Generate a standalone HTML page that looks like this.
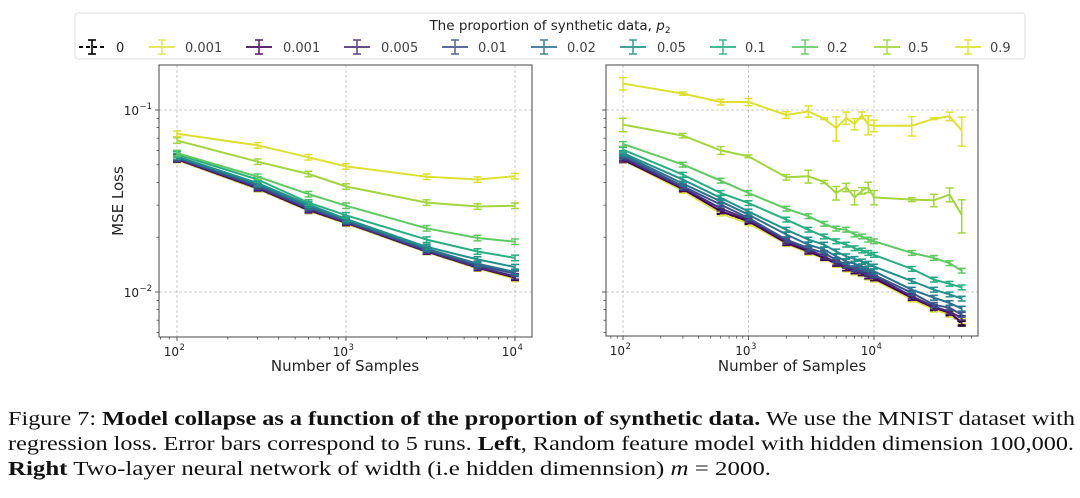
<!DOCTYPE html>
<html><head><meta charset="utf-8"><style>
html,body{margin:0;padding:0;background:#fff;}
svg{display:block;}
</style></head><body>
<svg id="fig" width="1080" height="498" viewBox="0 0 1080 498" xmlns="http://www.w3.org/2000/svg" font-family="'DejaVu Sans','Liberation Sans',sans-serif">
<g id="legend"></g>
<g id="left"></g>
<g id="right"></g>
<g id="caption" font-family="'Liberation Serif',serif" font-size="20" fill="#111">
<text x="8" y="425" textLength="1067" lengthAdjust="spacingAndGlyphs">Figure 7: <tspan font-weight="bold">Model collapse as a function of the proportion of synthetic data.</tspan> We use the MNIST dataset with</text>
<text x="8" y="450" textLength="1066" lengthAdjust="spacingAndGlyphs">regression loss. Error bars correspond to 5 runs. <tspan font-weight="bold">Left</tspan>, Random feature model with hidden dimension 100,000.</text>
<text x="8" y="475" textLength="763" lengthAdjust="spacingAndGlyphs"><tspan font-weight="bold">Right</tspan> Two-layer neural network of width (i.e hidden dimennsion) <tspan font-style="italic">m</tspan> = 2000.</text>
</g>
</svg>
<script>
const NS="http://www.w3.org/2000/svg";
const seriesLabels=["0","0.001","0.001","0.005","0.01","0.02","0.05","0.1","0.2","0.5","0.9"];
const seriesColors=["#000000","#dfe34a","#440154","#472d7b","#3b528b","#2c728e","#21918c","#28ae80","#5ec962","#a2d53f","#dde031"];
const leftX=[100,300,600,1000,3000,6000,10000];
const leftY0=[0.0532,0.0368,0.0280,0.0238,0.0166,0.0135,0.0119];
const leftY0001=[0.0532,0.0368,0.0280,0.0238,0.0166,0.0135,0.0118];
const leftYp001=[0.0536,0.0372,0.0282,0.0240,0.0167,0.0136,0.0120];
const leftY005=[0.0540,0.0376,0.0285,0.0242,0.0168,0.0137,0.0122];
const leftY01=[0.0546,0.0382,0.0290,0.0245,0.0171,0.0140,0.0126];
const leftY02=[0.0552,0.0390,0.0295,0.0248,0.0173,0.0143,0.0129];
const leftY05=[0.0556,0.0397,0.0302,0.0252,0.0177,0.0151,0.0137];
const leftY1=[0.0570,0.0415,0.0310,0.0264,0.0194,0.0167,0.0154];
const leftY2=[0.0580,0.0430,0.0345,0.0298,0.0224,0.0198,0.0189];
const leftY5=[0.0680,0.0520,0.0445,0.0380,0.0310,0.0295,0.0298];
const leftY9=[0.0740,0.0640,0.0550,0.0490,0.0430,0.0415,0.0433];
const rightX=[100,300,600,1000,2000,3000,4000,5000,6000,7000,8000,9000,10000,20000,30000,40000,50000];
const rightY0=[0.0530,0.0366,0.0276,0.0243,0.0185,0.0166,0.0153,0.0142,0.0134,0.0129,0.0126,0.0121,0.0118,0.0092,0.0081,0.0076,0.0067];
const rightY0001=[0.0532,0.0360,0.0270,0.0238,0.0184,0.0164,0.0153,0.0141,0.0133,0.0128,0.0125,0.0120,0.0117,0.0091,0.0080,0.0075,0.0069];
const rightYp001=[0.0534,0.0368,0.0278,0.0245,0.0186,0.0167,0.0154,0.0143,0.0135,0.0130,0.0127,0.0122,0.0119,0.0093,0.0082,0.0077,0.0068];
const rightY005=[0.0545,0.0373,0.0288,0.0250,0.0190,0.0171,0.0157,0.0145,0.0139,0.0133,0.0130,0.0125,0.0122,0.0095,0.0083,0.0078,0.0072];
const rightY01=[0.0556,0.0381,0.0302,0.0255,0.0194,0.0174,0.0164,0.0150,0.0141,0.0135,0.0133,0.0128,0.0124,0.0099,0.0085,0.0082,0.0075];
const rightY02=[0.0568,0.0394,0.0315,0.0266,0.0207,0.0182,0.0171,0.0157,0.0147,0.0143,0.0138,0.0134,0.0130,0.0103,0.0093,0.0087,0.0081];
const rightY05=[0.0580,0.0414,0.0329,0.0277,0.0220,0.0194,0.0182,0.0167,0.0157,0.0152,0.0147,0.0143,0.0138,0.0115,0.0103,0.0097,0.0092];
const rightY1=[0.0605,0.0441,0.0350,0.0308,0.0250,0.0220,0.0202,0.0190,0.0182,0.0174,0.0169,0.0164,0.0160,0.0134,0.0117,0.0111,0.0106];
const rightY2=[0.0650,0.0501,0.0409,0.0350,0.0287,0.0261,0.0237,0.0223,0.0220,0.0207,0.0202,0.0194,0.0190,0.0164,0.0154,0.0144,0.0131];
const rightY5=[0.0830,0.0723,0.0600,0.0556,0.0427,0.0432,0.0402,0.0350,0.0376,0.0331,0.0360,0.0376,0.0331,0.0322,0.0319,0.0343,0.0266];
const rightY9=[0.1396,0.1230,0.1106,0.1106,0.0939,0.0983,0.0896,0.0796,0.0904,0.0838,0.0935,0.0830,0.0820,0.0820,0.0896,0.0923,0.0773];
const rightErr5=[0.0070,0.0020,0.0030,0.0010,0.0015,0.0035,0.0008,0.0030,0.0020,0.0030,0.0015,0.0025,0.0030,0.0008,0.0025,0.0030,0.0055];
const rightErr9=[0.0110,0.0025,0.0040,0.0050,0.0040,0.0070,0.0010,0.0120,0.0070,0.0060,0.0040,0.0100,0.0060,0.0100,0.0010,0.0050,0.0140];
const leftSeries=[leftY0,leftY0001,leftYp001,leftY005,leftY01,leftY02,leftY05,leftY1,leftY2,leftY5,leftY9];
const rightSeries=[rightY0,rightY0001,rightYp001,rightY005,rightY01,rightY02,rightY05,rightY1,rightY2,rightY5,rightY9];

function el(tag,attrs,parent){const e=document.createElementNS(NS,tag);for(const k in attrs)e.setAttribute(k,attrs[k]);parent.appendChild(e);return e;}

function panel(g,box,xDec,xs,series,errFn,withYLabels){
  const [x0,x1,y0,y1]=box;
  const px=v=>xDec.at+ (Math.log10(v)-2)*xDec.per;
  const py=v=>110+(-1-Math.log10(v))*182;
  [100,1000,10000].forEach(v=>{const gl=el('line',{x1:px(v),x2:px(v),y1:y0,y2:y1,stroke:'#bbb','stroke-width':0.8,'stroke-dasharray':'3,2'},g);
    });
  [0.1,0.01].forEach(v=>{const gl=el('line',{x1:x0,x2:x1,y1:py(v),y2:py(v),stroke:'#bbb','stroke-width':0.8,'stroke-dasharray':'3,2'},g);
    });
  for(let d=1;d<=4;d++)for(let m=2;m<=9;m++){const v=m*Math.pow(10,d);const x=px(v);if(x>x0&&x<x1){el('line',{x1:x,x2:x,y1:y1,y2:y1+2.5,stroke:'#333','stroke-width':0.7},g);}}
  for(let d=-3;d<=-1;d++)for(let m=2;m<=9;m++){const v=m*Math.pow(10,d);const y=py(v);if(y>y0&&y<y1){el('line',{x1:x0,x2:x0-2.5,y1:y,y2:y,stroke:'#333','stroke-width':0.7},g);}}
  [[100,'2'],[1000,'3'],[10000,'4']].forEach(([v,e])=>{const x=px(v);el('line',{x1:x,x2:x,y1:y1,y2:y1+4,stroke:'#333','stroke-width':0.8},g);
    const t=el('text',{x:x+2,y:y1+19,'font-size':12,'text-anchor':'end',fill:'#222'},g);t.textContent='10';
    
    const s=el('text',{x:x+2.5,y:y1+13,'font-size':8.5,fill:'#222'},g);s.textContent=e;});
  [[0.1,'−1'],[0.01,'−2']].forEach(([v,e])=>{const y=py(v);el('line',{x1:x0,x2:x0-4,y1:y,y2:y,stroke:'#333','stroke-width':0.8},g);
    if(withYLabels){const t=el('text',{x:x0-20,y:y+5,'font-size':12,'text-anchor':'end',fill:'#222'},g);t.textContent='10';
    
    const s=el('text',{x:x0-19.5,y:y-1,'font-size':8.5,fill:'#222'},g);s.textContent=e;}});
  series.forEach((ys,i)=>{
    const sg=el('g',{},g);
    
    
    const pts=ys.map((v,j)=>px(xs[j]).toFixed(1)+','+py(v).toFixed(1)).join(' ');
    const col=seriesColors[i];
    el('polyline',{points:pts,fill:'none',stroke:col,'stroke-width':2,'stroke-dasharray':i===0?'4,2':'none','stroke-linejoin':'round'},sg);
    ys.forEach((v,j)=>{const e=errFn(i,j,v);const x=px(xs[j]);const ya=py(v+e),yb=py(Math.max(v-e,1e-4));
      el('line',{x1:x,x2:x,y1:ya,y2:yb,stroke:col,'stroke-width':1.5},sg);
      el('line',{x1:x-4,x2:x+4,y1:ya,y2:ya,stroke:col,'stroke-width':1.5},sg);
      el('line',{x1:x-4,x2:x+4,y1:yb,y2:yb,stroke:col,'stroke-width':1.5},sg);
    });
  });
  const fr=el('rect',{x:x0,y:y0,width:x1-x0,height:y1-y0,fill:'none',stroke:'#444','stroke-width':1},g);
  
  const xl=el('text',{x:xDec.mid,y:371,'font-size':15,'text-anchor':'middle',fill:'#222'},g);xl.textContent='Number of Samples';
  
}
panel(document.getElementById('left'),[159,532,65,337],{at:177,per:169,mid:345},leftX,leftSeries,(i,j,v)=>v*0.035,true);
const yl=el('text',{x:123,y:201,'font-size':15,'text-anchor':'middle',fill:'#222',transform:'rotate(-90 123 201)'},document.getElementById('left'));
yl.textContent='MSE Loss';


panel(document.getElementById('right'),[606,978,65,336],{at:623,per:125.5,mid:792},rightX,rightSeries,(i,j,v)=>i===10?rightErr9[j]:i===9?rightErr5[j]:v*0.03,false);

const lg=document.getElementById('legend');
const lb=el('rect',{x:75,y:13,width:950,height:46,rx:3,fill:'#fff',stroke:'#ddd','stroke-width':1},lg);

const lt=el('text',{x:550,y:30,'font-size':13.5,'text-anchor':'middle',fill:'#222'},lg);
lt.innerHTML='The proportion of synthetic data, <tspan font-style="italic">p</tspan><tspan font-size="9" dy="3">2</tspan>';

const handleX=[92,162,259,357,455,544,633,723,805,887,968];
const labelX=[116,185,283,381,478,567,657,745,827,908,990];
seriesLabels.forEach((lab,i)=>{
  const eg=el('g',{opacity:i===0?1:0.85},lg);
  
  
  const c=seriesColors[i],hx=handleX[i];
  el('line',{x1:hx-13,x2:hx+13,y1:47,y2:47,stroke:c,'stroke-width':2,'stroke-dasharray':i===0?'4,3':'none'},eg);
  el('line',{x1:hx,x2:hx,y1:40,y2:54,stroke:c,'stroke-width':1.6},eg);
  el('line',{x1:hx-4,x2:hx+4,y1:40,y2:40,stroke:c,'stroke-width':1.6},eg);
  el('line',{x1:hx-4,x2:hx+4,y1:54,y2:54,stroke:c,'stroke-width':1.6},eg);
  const t=el('text',{x:labelX[i],y:52,'font-size':13,fill:'#222'},eg);t.textContent=lab;
});
</script>
</body></html>
